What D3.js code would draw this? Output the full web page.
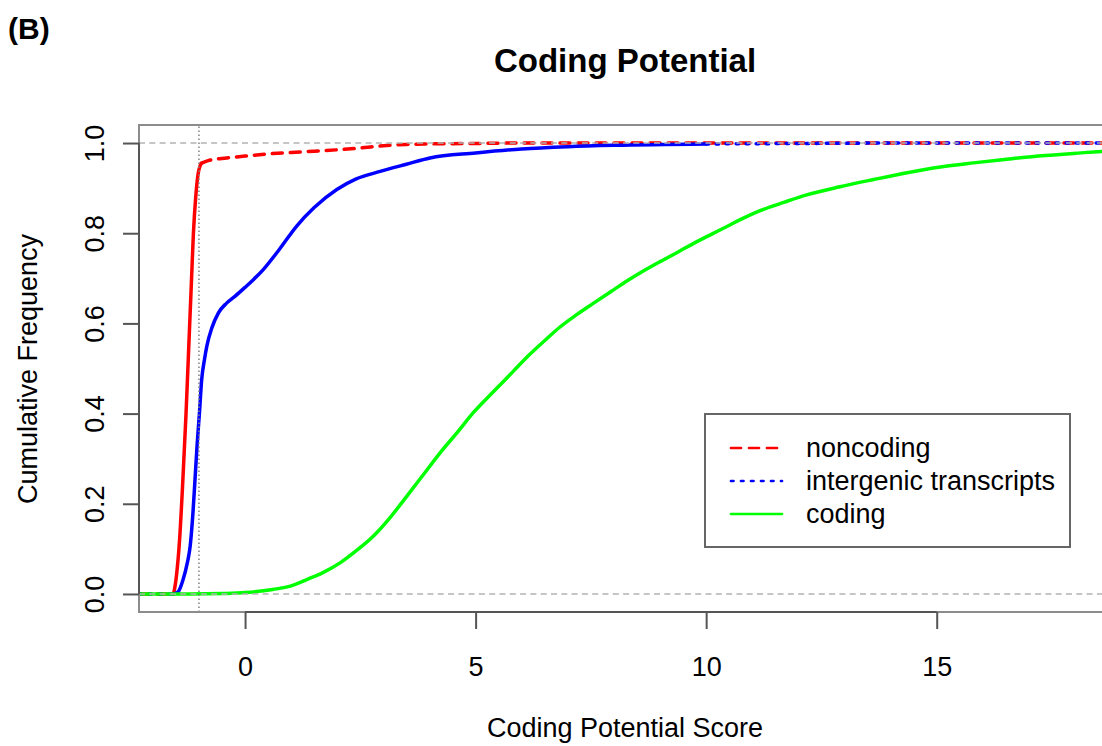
<!DOCTYPE html>
<html>
<head>
<meta charset="utf-8">
<script src="https://cdn.jsdelivr.net/npm/d3@7"></script>
<style>
  body { margin: 0; background: #fff; }
  text { font-family: "Liberation Sans", Arial, sans-serif; }
</style>
</head>
<body>
<div id="svg-area"></div>
<script>
// Cumulative frequency curves (score, cumulative freq)
var noncodingScore = [-1.55, -1.50, -1.42, -1.35, -1.28, -1.22, -1.16, -1.12, -1.07, -1.02, -0.95,
  -0.8, -0.4, 0, 0.5, 1, 1.5, 2, 2.5, 3, 3.5, 4, 5, 6, 14.7];
var noncodingFreq = [0, 0.03, 0.12, 0.25, 0.40, 0.55, 0.70, 0.80, 0.88, 0.93, 0.955,
  0.961, 0.967, 0.971, 0.976, 0.979, 0.982, 0.985, 0.989, 0.994, 0.997, 0.998, 0.999, 1.0, 1.0];

var intergenicScore = [-1.55, -1.45, -1.35, -1.25, -1.19, -1.13, -1.085, -1.04, -0.99, -0.94, -0.88,
  -0.83, -0.72, -0.58, -0.4, -0.22, 0, 0.18, 0.4, 0.75, 1.12, 1.5, 1.99, 2.4, 2.93, 3.5, 4.01,
  5, 6, 7, 8, 10, 12, 14];
var intergenicFreq = [0, 0.005, 0.03, 0.07, 0.106, 0.18, 0.254, 0.33, 0.40, 0.476, 0.52,
  0.549, 0.59, 0.623, 0.645, 0.66, 0.68, 0.697, 0.72, 0.765, 0.816, 0.857, 0.897, 0.92, 0.937, 0.953, 0.967,
  0.978, 0.987, 0.992, 0.995, 0.998, 0.999, 1.0];

var codingScore = [-1.2, -0.5, 0, 0.6, 1.0, 1.34, 1.7, 2.06, 2.4, 2.78, 3.15, 3.51, 3.87, 4.23, 4.6,
  4.95, 5.4, 5.8, 6.11, 6.5, 6.83, 7.2, 7.56, 8.0, 8.28, 8.6, 9.0, 9.4, 9.72, 10.1, 10.45, 10.74,
  11.17, 11.7, 12.18, 12.9, 13.63, 14.3, 15.08, 15.8, 16.52, 17.2, 17.97, 18.8];
var codingFreq = [0, 0.001, 0.003, 0.01, 0.018, 0.032, 0.048, 0.069, 0.095, 0.128, 0.17, 0.217, 0.265, 0.313, 0.358,
  0.402, 0.450, 0.492, 0.525, 0.562, 0.592, 0.620, 0.645, 0.675, 0.694, 0.714, 0.737, 0.759, 0.777, 0.797, 0.815, 0.830,
  0.850, 0.869, 0.885, 0.903, 0.919, 0.933, 0.947, 0.956, 0.964, 0.971, 0.977, 0.982];

var seriesNames = ["noncoding", "intergenic transcripts", "coding"];
var xTicks = [0, 5, 10, 15];
var yTicks = [0, 0.2, 0.4, 0.6, 0.8, 1.0];
var cutoffScore = -1;

var width = 1102, height = 746;
var margin = { top: 125, right: -9, bottom: 134, left: 139 };

var svg = d3.select('#svg-area')
  .append('svg')
  .attr('width', width)
  .attr('height', height);

var x = d3.scaleLinear().domain([-2.3, 18.78]).range([margin.left, width - margin.right]);
var y = d3.scaleLinear().domain([-0.04, 1.04]).range([height - margin.bottom, margin.top]);

svg.append("clipPath").attr("id", "plot-clip")
  .append("rect")
  .attr("x", x.range()[0]).attr("y", y.range()[1])
  .attr("width", x.range()[1] - x.range()[0])
  .attr("height", y.range()[0] - y.range()[1]);

// series styles: dash is only used where the step curve is sparse (flat parts)
var series = [
  { name: seriesNames[0], xs: noncodingScore, ys: noncodingFreq, color: "#ff0000", dash: "10,8", flatTol: 1 },
  { name: seriesNames[1], xs: intergenicScore, ys: intergenicFreq, color: "#0000ff", dash: "2.5,7.5", flatTol: 0.01 },
  { name: seriesNames[2], xs: codingScore, ys: codingFreq, color: "#00ff00", dash: null, flatTol: 0 }
];

var line = d3.line().x(d => x(d[0])).y(d => y(d[1])).curve(d3.curveMonotoneX);

// split a curve into runs of solid / patterned segments
function runs(s) {
  var pts = s.xs.map((v, i) => [v, s.ys[i]]);
  // extend like an ecdf plot to the plot edges
  pts.unshift([x.domain()[0], 0]);
  pts.push([x.domain()[1], s.ys[s.ys.length - 1]]);
  var out = [];
  for (var i = 1; i < pts.length; i++) {
    var dx = Math.abs(x(pts[i][0]) - x(pts[i - 1][0]));
    var dy = Math.abs(y(pts[i][1]) - y(pts[i - 1][1]));
    var patterned = s.dash != null && dy <= s.flatTol * dx;
    var last = out[out.length - 1];
    if (last && last.patterned === patterned) {
      last.pts.push(pts[i]);
    } else {
      out.push({ patterned: patterned, pts: [pts[i - 1], pts[i]] });
    }
  }
  return out;
}

var curveGroup = svg.append("g").attr("clip-path", "url(#plot-clip)");

series.forEach(function (s) {
  curveGroup.selectAll(null)
    .data(runs(s))
    .join("path")
    .attr("d", d => line(d.pts))
    .attr("fill", "none")
    .attr("stroke", s.color)
    .attr("stroke-width", 3.5)
    .attr("stroke-linecap", "round")
    .attr("stroke-linejoin", "round")
    .attr("stroke-dasharray", d => d.patterned ? s.dash : null);
});

// gray reference lines at 0 and 1, dotted cutoff
curveGroup.selectAll(".ref")
  .data([0, 1])
  .join("line")
  .attr("x1", x.range()[0]).attr("x2", x.range()[1])
  .attr("y1", d => y(d)).attr("y2", d => y(d))
  .attr("stroke", "#b3b3b3")
  .attr("stroke-width", 1.5)
  .attr("stroke-dasharray", "6,4.3");

curveGroup.append("line")
  .attr("x1", x(cutoffScore)).attr("x2", x(cutoffScore))
  .attr("y1", y.range()[0]).attr("y2", y.range()[1])
  .attr("stroke", "#808080")
  .attr("stroke-width", 1.5)
  .attr("stroke-dasharray", "1.5,2.5");

// plot box
svg.append("rect")
  .attr("x", x.range()[0]).attr("y", y.range()[1])
  .attr("width", x.range()[1] - x.range()[0])
  .attr("height", y.range()[0] - y.range()[1])
  .attr("fill", "none")
  .attr("stroke", "#8c8c8c")
  .attr("stroke-width", 2);

// x axis
var xAxis = svg.append("g")
  .attr("transform", `translate(0, ${y.range()[0]})`)
  .call(d3.axisBottom(x).tickValues(xTicks).tickSize(17).tickFormat(d3.format("d")));
xAxis.select(".domain").remove();
xAxis.append("line")
  .attr("x1", x(xTicks[0])).attr("x2", x(xTicks[xTicks.length - 1]))
  .attr("stroke", "#555").attr("stroke-width", 2);
xAxis.selectAll(".tick line").attr("stroke", "#555").attr("stroke-width", 2);
xAxis.selectAll(".tick text")
  .attr("font-size", "27px")
  .attr("font-family", "Liberation Sans, Arial, sans-serif")
  .attr("fill", "#000")
  .attr("dy", null)
  .attr("y", 64);

// y axis, labels rotated like R
var yAxis = svg.append("g")
  .attr("transform", `translate(${x.range()[0]}, 0)`)
  .call(d3.axisLeft(y).tickValues(yTicks).tickSize(16).tickFormat(d3.format(".1f")));
yAxis.select(".domain").remove();
yAxis.append("line")
  .attr("y1", y(yTicks[0])).attr("y2", y(yTicks[yTicks.length - 1]))
  .attr("stroke", "#555").attr("stroke-width", 2);
yAxis.selectAll(".tick line").attr("stroke", "#555").attr("stroke-width", 2);
yAxis.selectAll(".tick text")
  .attr("font-size", "27px")
  .attr("font-family", "Liberation Sans, Arial, sans-serif")
  .attr("fill", "#000")
  .attr("x", null).attr("dy", null)
  .attr("text-anchor", "middle")
  .attr("transform", "translate(-35, 0) rotate(-90)");

// titles
svg.append("text")
  .attr("x", 625).attr("y", 72)
  .attr("text-anchor", "middle")
  .attr("font-size", "33px").attr("font-weight", "700")
  .text("Coding Potential");

svg.append("text")
  .attr("x", 8).attr("y", 39)
  .attr("font-size", "30px").attr("font-weight", "700")
  .text("(B)");

svg.append("text")
  .attr("x", 625).attr("y", 737)
  .attr("text-anchor", "middle")
  .attr("font-size", "27px")
  .text("Coding Potential Score");

svg.append("text")
  .attr("transform", "translate(37, 369) rotate(-90)")
  .attr("text-anchor", "middle")
  .attr("font-size", "27px")
  .text("Cumulative Frequency");

// legend
var legend = svg.append("g").attr("transform", "translate(705, 414)");
legend.append("rect")
  .attr("width", 365).attr("height", 133)
  .attr("fill", "#fff")
  .attr("stroke", "#666").attr("stroke-width", 2);

var rows = legend.selectAll(".row")
  .data(series)
  .join("g")
  .attr("transform", (d, i) => `translate(0, ${34 + i * 33})`);

rows.append("line")
  .attr("x1", 26).attr("x2", 77)
  .attr("stroke", d => d.color)
  .attr("stroke-width", 2.7)
  .attr("stroke-linecap", "round")
  .attr("stroke-dasharray", d => d.dash);

rows.append("text")
  .attr("x", 101).attr("y", 9)
  .attr("font-size", "27px")
  .text(d => d.name);
</script>
</body>
</html>
